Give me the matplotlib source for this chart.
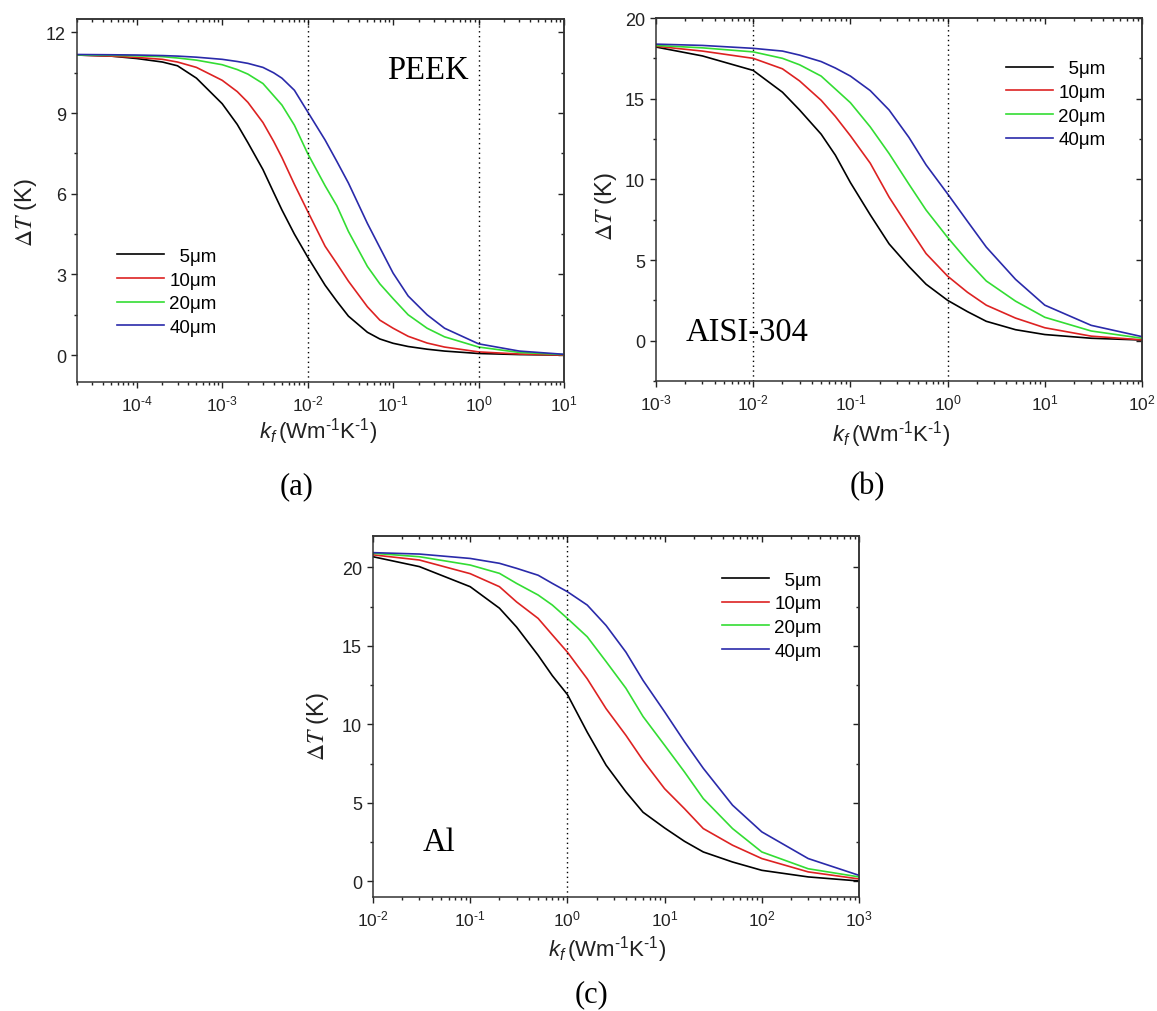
import math
import matplotlib
matplotlib.use('Agg')
import matplotlib.pyplot as plt
from matplotlib.ticker import MultipleLocator, LogLocator, NullFormatter, FuncFormatter

plt.rcParams['font.family'] = ['Liberation Sans', 'DejaVu Sans']
plt.rcParams['mathtext.fontset'] = 'custom'
plt.rcParams['mathtext.rm'] = 'Liberation Sans'
plt.rcParams['mathtext.it'] = 'Liberation Sans:italic'
plt.rcParams['mathtext.bf'] = 'Liberation Sans:bold'

labels = ['  5μm', '10μm', '20μm', '40μm']
colors = ['#000000', '#dd2222', '#33dd33', '#2a2aaa']

# (a) PEEK
kf_a = [2e-5, 5e-5, 1e-4, 2e-4, 3e-4, 5e-4, 1e-3, 1.5e-3, 2e-3, 3e-3, 4e-3, 5e-3, 7e-3,
        1e-2, 1.6e-2, 2.2e-2, 3e-2, 5e-2, 7e-2, 1e-1, 1.5e-1, 2.5e-1, 4e-1, 1, 3, 10]
a_5 = [11.16, 11.12, 11.03, 10.9, 10.76, 10.3, 9.35, 8.58, 7.9, 6.9, 6.05, 5.4, 4.5,
       3.65, 2.6, 2.0, 1.45, 0.85, 0.6, 0.44, 0.32, 0.22, 0.15, 0.06, 0.02, 0.0]
a_10 = [11.16, 11.12, 11.07, 11.0, 10.9, 10.7, 10.22, 9.8, 9.4, 8.65, 7.95, 7.35, 6.35,
        5.35, 4.05, 3.4, 2.75, 1.8, 1.3, 1.0, 0.7, 0.45, 0.3, 0.12, 0.04, 0.0]
a_20 = [11.16, 11.15, 11.13, 11.1, 11.05, 10.97, 10.8, 10.62, 10.45, 10.1, 9.65, 9.3, 8.55,
        7.5, 6.3, 5.55, 4.6, 3.3, 2.65, 2.1, 1.5, 1.0, 0.68, 0.3, 0.1, 0.02]
a_40 = [11.18, 11.17, 11.16, 11.14, 11.12, 11.08, 11.0, 10.92, 10.85, 10.7, 10.5, 10.3, 9.85,
        9.05, 8.0, 7.2, 6.4, 4.9, 4.0, 3.05, 2.2, 1.5, 1.0, 0.42, 0.15, 0.03]

# (b) AISI-304
kf_b = [1e-3, 3e-3, 1e-2, 2e-2, 3e-2, 5e-2, 7e-2, 1e-1, 1.6e-1, 2.5e-1, 4e-1, 6e-1, 1, 1.6, 2.5, 5, 10, 30, 100]
b_5 = [18.2, 17.65, 16.75, 15.4, 14.3, 12.8, 11.5, 9.8, 7.8, 6.0, 4.6, 3.5, 2.5, 1.8, 1.2, 0.68, 0.38, 0.15, 0.04]
b_10 = [18.25, 17.95, 17.5, 16.85, 16.1, 14.9, 13.9, 12.7, 11.0, 8.9, 7.0, 5.4, 4.0, 3.0, 2.2, 1.4, 0.8, 0.28, 0.05]
b_20 = [18.3, 18.15, 17.9, 17.5, 17.1, 16.4, 15.6, 14.75, 13.25, 11.6, 9.7, 8.1, 6.4, 4.95, 3.7, 2.45, 1.45, 0.6, 0.15]
b_40 = [18.38, 18.3, 18.12, 17.95, 17.7, 17.3, 16.9, 16.4, 15.5, 14.3, 12.6, 10.9, 9.1, 7.4, 5.8, 3.8, 2.2, 0.95, 0.25]

# (c) Al
kf_c = [1e-2, 3e-2, 1e-1, 2e-1, 3e-1, 5e-1, 7e-1, 1, 1.6, 2.5, 4, 6, 10, 16, 25, 50, 100, 300, 1000]
c_5 = [20.68, 20.05, 18.77, 17.4, 16.2, 14.4, 13.1, 11.9, 9.5, 7.4, 5.7, 4.4, 3.4, 2.55, 1.87, 1.23, 0.7, 0.28, 0.02]
c_10 = [20.8, 20.47, 19.6, 18.77, 17.8, 16.75, 15.7, 14.6, 12.9, 11.0, 9.3, 7.7, 5.9, 4.63, 3.36, 2.3, 1.45, 0.6, 0.15]
c_20 = [20.9, 20.68, 20.15, 19.62, 18.98, 18.24, 17.6, 16.75, 15.58, 14.0, 12.3, 10.5, 8.67, 6.97, 5.27, 3.36, 1.87, 0.8, 0.28]
c_40 = [20.94, 20.85, 20.57, 20.26, 19.94, 19.5, 18.98, 18.45, 17.6, 16.3, 14.6, 12.8, 10.8, 8.9, 7.2, 4.85, 3.15, 1.45, 0.38]

W, H = 1157, 1012
fig = plt.figure(figsize=(W / 100, H / 100), dpi=100)


def px_rect(left, top, right, bottom):
    return [left / W, 1 - bottom / H, (right - left) / W, (bottom - top) / H]


def pow10(v, pos):
    e = int(round(math.log10(v)))
    if e < 0:
        return r'$\mathdefault{10^{\text{-}%d}}$' % (-e)
    return r'$\mathdefault{10^{%d}}$' % e


def style_ticks(axis, direction, **kw):
    axis.tick_params(which='both', direction=direction, colors='#222222', width=1.0, **kw)
    axis.tick_params(which='major', length=4.5)
    axis.tick_params(which='minor', length=2.5)


def panel(rect, kf, series, xlim, ylim, ymajor, yminor, vlines, name, name_pos, leg_pos):
    ax = fig.add_axes(rect)
    for y, c, lab in zip(series, colors, labels):
        ax.plot(kf, y, color=c, lw=1.2, label=lab)
    for v in vlines:
        ax.axvline(v, color='black', lw=1.0, ls=(0, (1, 2.5)))
    ax.set_xscale('log')
    ax.set_xlim(xlim)
    ax.set_ylim(ylim)
    ax.xaxis.set_major_locator(LogLocator(base=10, numticks=20))
    ax.xaxis.set_minor_locator(LogLocator(base=10, subs=range(2, 10), numticks=20))
    ax.xaxis.set_major_formatter(FuncFormatter(pow10))
    ax.xaxis.set_minor_formatter(NullFormatter())
    ax.yaxis.set_major_locator(MultipleLocator(ymajor))
    ax.yaxis.set_minor_locator(MultipleLocator(yminor))
    style_ticks(ax, 'out')
    ax.tick_params(axis='y', labelsize=13)
    ax.tick_params(axis='x', labelsize=12.5)
    for s in ax.spines.values():
        s.set_color('#333333')
        s.set_linewidth(1.1)

    # mirrored ticks pointing inward on top and right
    sx = ax.secondary_xaxis('top')
    sx.xaxis.set_major_locator(LogLocator(base=10, numticks=20))
    sx.xaxis.set_minor_locator(LogLocator(base=10, subs=range(2, 10), numticks=20))
    style_ticks(sx, 'in', labeltop=False)
    sx.spines['top'].set_color('#333333')
    sx.spines['top'].set_linewidth(1.1)
    sy = ax.secondary_yaxis('right')
    sy.yaxis.set_major_locator(MultipleLocator(ymajor))
    sy.yaxis.set_minor_locator(MultipleLocator(yminor))
    style_ticks(sy, 'in', labelright=False)
    sy.spines['right'].set_color('#333333')
    sy.spines['right'].set_linewidth(1.1)

    ax.text(name_pos[0], name_pos[1], name, transform=ax.transAxes, ha='center', va='center',
            family='Liberation Serif', fontsize=23.5)
    ax.legend(loc='upper left', bbox_to_anchor=leg_pos, frameon=False, fontsize=13.5,
              handlelength=2.5, handletextpad=0.3, labelspacing=0.35, borderpad=0, borderaxespad=0)
    return ax


panel(px_rect(77, 20, 564, 383), kf_a, [a_5, a_10, a_20, a_40], (2e-5, 10), (-1, 12.5), 3, 1.5,
      [1e-2, 1], 'PEEK', (0.72, 0.86), (0.082, 0.37))
panel(px_rect(656, 19, 1142, 382), kf_b, [b_5, b_10, b_20, b_40], (1e-3, 100), (-2.5, 20), 5, 2.5,
      [1e-2, 1], 'AISI-304', (0.187, 0.135), (0.72, 0.884))
panel(px_rect(373, 537, 859, 898), kf_c, [c_5, c_10, c_20, c_40], (1e-2, 1000), (-1, 22), 5, 2.5,
      [1], 'Al', (0.136, 0.152), (0.718, 0.902))

ylab = r'$\Delta T$ (K)'
xlab = r'$k_f\,$(Wm$^{\text{-}1}$K$^{\text{-}1}$)'
for x, y in [(26, 213), (606, 207), (318, 727)]:
    fig.text(x / W, 1 - y / H, ylab, rotation=90, ha='center', va='center', fontsize=17,
             math_fontfamily='stix', color='#222222')
for x, y in [(318, 432), (891, 435), (607, 950)]:
    fig.text(x / W, 1 - y / H, xlab, ha='center', va='center', fontsize=16, color='#222222')
for x, y, t in [(297, 487, '(a)'), (867, 487, '(b)'), (592, 995, '(c)')]:
    fig.text(x / W, 1 - y / H, t, ha='center', va='center', fontsize=22, family='Liberation Serif')

plt.savefig('out.png', dpi=100)
